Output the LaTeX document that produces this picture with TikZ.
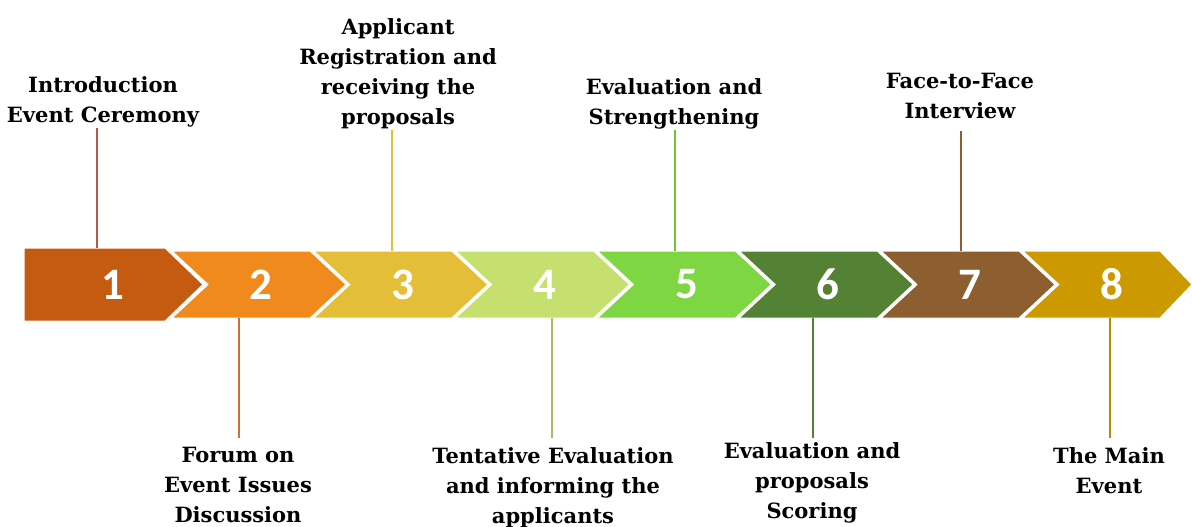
\documentclass[tikz,border=0pt]{standalone}
\usepackage{fontspec}
\setmainfont{DejaVu Serif}
\newfontfamily\numfont{Carlito}
\usepackage{xcolor}

\definecolor{stepA}{RGB}{197,90,17}
\definecolor{stepB}{RGB}{240,138,28}
\definecolor{stepC}{RGB}{228,190,57}
\definecolor{stepD}{RGB}{197,224,110}
\definecolor{stepE}{RGB}{125,214,66}
\definecolor{stepF}{RGB}{84,130,53}
\definecolor{stepG}{RGB}{140,94,48}
\definecolor{stepH}{RGB}{204,153,0}
\definecolor{linkA}{RGB}{180,88,72}
\definecolor{linkB}{RGB}{205,112,50}

\tikzset{
  chev/.style={draw=white, line width=1pt, line join=miter},
  num/.style={text=white, font=\numfont\bfseries\fontsize{45}{45}\selectfont, inner sep=0pt},
  lbl/.style={align=center, font=\bfseries\fontsize{21}{30}\selectfont, text=black, inner sep=1pt},
  link/.style={line width=1.2pt},
}

\begin{document}
\begin{tikzpicture}[x=1pt,y=1pt,yscale=-1,xscale=1]
\useasboundingbox (0,0) rectangle (1192,527);

%Shape: Chevron 1
\draw [chev, fill=stepA] (24,248) -- (165,248) -- (203,284.5) -- (165,321) -- (24,321) -- cycle ;
%Shape: Chevron 2
\draw [chev, fill=stepB] (172,251) -- (310,251) -- (346,284.5) -- (310,318) -- (172,318) -- (208,284.5) -- cycle ;
%Shape: Chevron 3
\draw [chev, fill=stepC] (313.8,251) -- (451.8,251) -- (487.8,284.5) -- (451.8,318) -- (313.8,318) -- (349.8,284.5) -- cycle ;
%Shape: Chevron 4
\draw [chev, fill=stepD] (455.6,251) -- (593.6,251) -- (629.6,284.5) -- (593.6,318) -- (455.6,318) -- (491.6,284.5) -- cycle ;
%Shape: Chevron 5
\draw [chev, fill=stepE] (597.4,251) -- (735.4,251) -- (771.4,284.5) -- (735.4,318) -- (597.4,318) -- (633.4,284.5) -- cycle ;
%Shape: Chevron 6
\draw [chev, fill=stepF] (739.2,251) -- (877.2,251) -- (913.2,284.5) -- (877.2,318) -- (739.2,318) -- (775.2,284.5) -- cycle ;
%Shape: Chevron 7
\draw [chev, fill=stepG] (881,251) -- (1019,251) -- (1055,284.5) -- (1019,318) -- (881,318) -- (917,284.5) -- cycle ;
%Shape: Chevron 8
\draw [chev, fill=stepH] (1022.8,251) -- (1160,251) -- (1192,284.5) -- (1160,318) -- (1022.8,318) -- (1058.8,284.5) -- cycle ;

% Step numbers
\node [num] (n1) at (113,284.5) {1};
\node [num] (n2) at (261,284.5) {2};
\node [num] (n3) at (402.8,284.5) {3};
\node [num] (n4) at (544.6,284.5) {4};
\node [num] (n5) at (686.4,284.5) {5};
\node [num] (n6) at (828.2,284.5) {6};
\node [num] (n7) at (970,284.5) {7};
\node [num] (n8) at (1111.8,284.5) {8};

% Connector feet on the chevrons
\coordinate (c1) at (97,248);
\coordinate (c2) at (239,318);
\coordinate (c3) at (392,251);
\coordinate (c4) at (552,318);
\coordinate (c5) at (675,251);
\coordinate (c6) at (813,318);
\coordinate (c7) at (961,251);
\coordinate (c8) at (1110,318);

% Text Node
\node [lbl, anchor=south] (l1) at (103,128) {Introduction\\Event Ceremony};
% Text Node
\node [lbl, anchor=south] (l3) at (398,130) {Applicant\\Registration and\\receiving the\\proposals};
% Text Node
\node [lbl, anchor=south] (l5) at (674,130) {Evaluation and\\Strengthening};
% Text Node
\node [lbl, anchor=south, inner ysep=12pt] (l7) at (960,131) {Face-to-Face\\Interview};
% Text Node
\node [lbl, anchor=north, inner ysep=9pt] (l2) at (238,438) {Forum on\\Event Issues\\Discussion};
% Text Node
\node [lbl, anchor=north, inner ysep=9pt] (l4) at (553,438) {Tentative Evaluation\\and informing the\\applicants};
% Text Node
\node [lbl, anchor=north, inner ysep=4pt] (l6) at (812,438) {Evaluation and\\proposals\\Scoring};
% Text Node
\node [lbl, anchor=north, inner ysep=9pt] (l8) at (1109,438) {The Main\\Event};

%Straight Lines
\draw [link, linkA] (c1) -- (c1 |- l1.south);
\draw [link, linkB] (c2) -- (c2 |- l2.north);
\draw [link, stepC] (c3) -- (c3 |- l3.south);
\draw [link, stepD!85!black] (c4) -- (c4 |- l4.north);
\draw [link, stepE!90!black] (c5) -- (c5 |- l5.south);
\draw [link, stepF] (c6) -- (c6 |- l6.north);
\draw [link, stepG] (c7) -- (c7 |- l7.south);
\draw [link, stepH!90!black] (c8) -- (c8 |- l8.north);

\end{tikzpicture}
\end{document}
